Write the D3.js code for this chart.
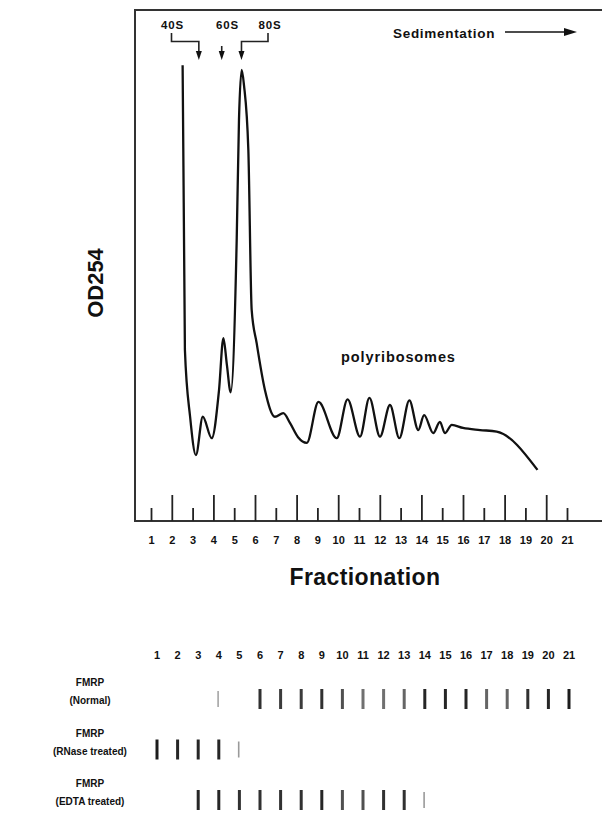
<!DOCTYPE html>
<html>
<head>
<meta charset="utf-8">
<script src="https://cdn.jsdelivr.net/npm/d3@7"></script>
<style>
  body { margin: 0; background: #fff; }
  svg { display: block; font-family: "Liberation Sans", Arial, sans-serif; font-weight: bold; }
</style>
</head>
<body>
<svg id="chart" width="602" height="814"></svg>
<script>
// fractions along the gradient (top profile)
const fractions = d3.range(1, 22);
// OD254 trace: [fraction, absorbance (arbitrary units)]
const profileX = [2.52, 2.63, 2.88, 3.16, 3.49, 3.92, 4.27, 4.48, 4.65, 4.83, 5.12, 5.23, 5.36, 5.47, 5.68,
  5.84, 6.08, 6.48, 6.96, 7.36, 7.68, 8.07, 8.49, 9.05, 9.93, 10.45, 11.05, 11.5, 12.01, 12.49, 12.94,
  13.42, 13.85, 14.13, 14.57, 14.89, 15.13, 15.46, 16.0, 16.82, 17.62, 19.58];
const profileOD = [89.2, 33.5, 20.4, 12.9, 20.4, 16.2, 25.6, 35.8, 30.5, 25.2, 55.0, 78.5, 88.3, 85.3, 72.6,
  41.3, 34.8, 25.6, 20.4, 21.1, 19.2, 16.4, 15.3, 23.3, 16.2, 23.8, 16.5, 24.1, 16.5, 22.7, 16.2,
  23.6, 17.8, 20.7, 17.2, 19.4, 17.2, 18.8, 18.2, 17.8, 17.5, 10.0];

// ribosome subunit markers
const markerNames = ["40S", "60S", "80S"];
const markerFractions = [3.3, 4.4, 5.35];

// western blot lanes (bottom panel)
const lanes = d3.range(1, 22);
const rowNames = ["Normal", "RNase treated", "EDTA treated"];
const normalLanes = [4, 6, 7, 8, 9, 10, 11, 12, 13, 14, 15, 16, 17, 18, 19, 20, 21];
const normalSignal = [0.3, 0.85, 0.8, 0.8, 0.85, 0.7, 0.55, 0.55, 0.6, 0.9, 0.9, 0.9, 0.6, 0.6, 0.85, 0.9, 0.95];
const rnaseLanes = [1, 2, 3, 4, 5];
const rnaseSignal = [0.95, 0.9, 0.9, 0.9, 0.35];
const edtaLanes = [3, 4, 5, 6, 7, 8, 9, 10, 11, 12, 13, 14];
const edtaSignal = [0.9, 0.9, 0.85, 0.85, 0.85, 0.85, 0.9, 0.7, 0.7, 0.85, 0.85, 0.35];

const svg = d3.select("#chart");
const frame = { left: 135, top: 10, right: 640, bottom: 521 };

const x = d3.scaleLinear().domain([1, 21]).range([151, 567]);
const y = d3.scaleLinear().domain([0, 100]).range([frame.bottom, frame.top]);

// frame
svg.append("rect")
  .attr("x", frame.left).attr("y", frame.top)
  .attr("width", frame.right - frame.left).attr("height", frame.bottom - frame.top)
  .attr("fill", "none").attr("stroke", "#333").attr("stroke-width", 2);

// fraction axis: ticks pointing into the plot, alternating length
const xAxis = svg.append("g")
  .attr("transform", `translate(0,${frame.bottom})`)
  .call(d3.axisBottom(x).tickValues(fractions).tickFormat(d3.format("d"))
    .tickSizeInner(-13).tickSizeOuter(0).tickPadding(15));
xAxis.select(".domain").remove();
xAxis.selectAll(".tick line")
  .attr("y2", d => d % 2 === 0 ? -26 : -13)
  .attr("stroke", "#222").attr("stroke-width", 1.8);
xAxis.selectAll(".tick text")
  .attr("font-size", 11).attr("font-weight", "bold").attr("fill", "#111");

svg.append("text")
  .attr("x", 365).attr("y", 585)
  .attr("text-anchor", "middle").attr("font-size", 23).attr("letter-spacing", 0.4).attr("fill", "#111")
  .text("Fractionation");

svg.append("text")
  .attr("transform", "translate(103,283) rotate(-90)")
  .attr("text-anchor", "middle").attr("font-size", 22).attr("fill", "#111")
  .text("OD254");

// the OD trace
const line = d3.line()
  .x((d, i) => x(profileX[i]))
  .y((d, i) => y(profileOD[i]))
  .curve(d3.curveMonotoneX);
svg.append("path")
  .datum(profileX)
  .attr("d", line)
  .attr("fill", "none").attr("stroke", "#111").attr("stroke-width", 2.3)
  .attr("stroke-linejoin", "round");

svg.append("text")
  .attr("x", 341).attr("y", 362)
  .attr("font-size", 14.5).attr("letter-spacing", 0.9).attr("fill", "#111")
  .text("polyribosomes");

// subunit markers with brackets
const labelX = [172.5, 227.5, 270];
markerNames.forEach((name, i) => {
  svg.append("text")
    .attr("x", labelX[i]).attr("y", 29)
    .attr("text-anchor", "middle").attr("font-size", 11.5).attr("letter-spacing", 0.8).attr("fill", "#111")
    .text(name);
  const ax = x(markerFractions[i]);
  let pts;
  if (i === 1) pts = [[ax, 46], [ax, 53]];
  else pts = [[labelX[i] + (i === 0 ? -1 : -2), 33], [labelX[i] + (i === 0 ? -1 : -2), 41.5], [ax, 41.5], [ax, 53]];
  svg.append("path")
    .attr("d", d3.line()(pts))
    .attr("fill", "none").attr("stroke", "#222").attr("stroke-width", 1.6);
  svg.append("path")
    .attr("d", d3.line()([[ax - 3, 51], [ax + 3, 51], [ax, 60]]) + "Z")
    .attr("fill", "#111");
});

// sedimentation direction
svg.append("text")
  .attr("x", 393).attr("y", 38)
  .attr("font-size", 13.5).attr("letter-spacing", 0.7).attr("fill", "#111")
  .text("Sedimentation");
svg.append("path")
  .attr("d", d3.line()([[505, 32], [568, 32]]))
  .attr("stroke", "#111").attr("stroke-width", 1.5);
svg.append("path")
  .attr("d", d3.line()([[564, 28], [577, 32], [564, 36]]) + "Z")
  .attr("fill", "#111");

// ---- bottom panel: FMRP distribution across fractions ----
const lx = d3.scaleLinear().domain([1, 21]).range([157, 569]);
const rowY = d3.scalePoint().domain(rowNames).range([699, 800]);
const shade = d3.scaleLinear().domain([0, 1]).range(["#e4e4e4", "#111"]);

svg.append("g").selectAll("text")
  .data(lanes).join("text")
  .attr("x", d => lx(d)).attr("y", 659)
  .attr("text-anchor", "middle").attr("font-size", 11).attr("fill", "#111")
  .text(d => d);

const rowLabels = svg.append("g").selectAll("text")
  .data(rowNames).join("text")
  .attr("text-anchor", "middle").attr("font-size", 10).attr("fill", "#111");
rowLabels.append("tspan").attr("x", 90).attr("y", d => rowY(d) - 13).text("FMRP");
rowLabels.append("tspan").attr("x", 90).attr("y", d => rowY(d) + 5).text(d => `(${d})`);

const rows = [
  { name: "Normal", lanes: normalLanes, signal: normalSignal },
  { name: "RNase treated", lanes: rnaseLanes, signal: rnaseSignal },
  { name: "EDTA treated", lanes: edtaLanes, signal: edtaSignal }
];
rows.forEach(r => {
  svg.append("g").selectAll("rect")
    .data(r.lanes).join("rect")
    .attr("x", d => lx(d) - 1.5)
    .attr("y", (d, i) => rowY(r.name) - (r.signal[i] < 0.5 ? 8 : 10))
    .attr("width", (d, i) => r.signal[i] < 0.5 ? 1.6 : 3)
    .attr("height", (d, i) => r.signal[i] < 0.5 ? 16 : 20)
    .attr("fill", (d, i) => shade(r.signal[i]));
});
</script>
</body>
</html>
